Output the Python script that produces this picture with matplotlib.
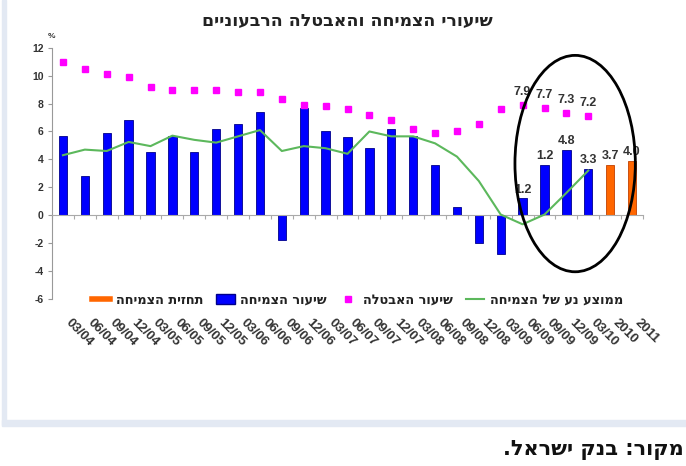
import numpy as np
import matplotlib
matplotlib.use("Agg")
import matplotlib.pyplot as plt
from matplotlib.lines import Line2D
from matplotlib.patches import Patch, Ellipse, Rectangle
import matplotlib.transforms as mtransforms

plt.rcParams['font.family'] = ['Liberation Sans', 'DejaVu Sans']
plt.rcParams['axes.unicode_minus'] = False
HEB_FONT = ['DejaVu Sans']


def heb(s):
    # matplotlib has no bidi support: flip Hebrew to visual order
    return s[::-1]


# Data
quarters = ["03/04", "06/04", "09/04", "12/04", "03/05", "06/05", "09/05", "12/05",
            "03/06", "06/06", "09/06", "12/06", "03/07", "06/07", "09/07", "12/07",
            "03/08", "06/08", "09/08", "12/08", "03/09", "06/09", "09/09", "12/09",
            "03/10", "2010", "2011"]

growth = [5.7, 2.8, 5.9, 6.8, 4.5, 5.7, 4.5, 6.2, 6.5, 7.4, -1.8, 7.65, 6.05, 5.6,
          4.8, 6.2, 5.7, 3.6, 0.6, -2.0, -2.8, 1.2, 3.6, 4.7, 3.3]
forecast = [3.6, 3.9]
unemployment = [10.95, 10.5, 10.15, 9.9, 9.2, 9.0, 8.95, 9.0, 8.8, 8.8, 8.35, 7.9, 7.8,
                7.6, 7.2, 6.8, 6.15, 5.9, 6.0, 6.5, 7.6, 7.9, 7.7, 7.3, 7.1]
moving_avg = [4.3, 4.7, 4.6, 5.25, 4.95, 5.7, 5.4, 5.2, 5.65, 6.1, 4.6, 4.95, 4.8, 4.4,
              6.0, 5.65, 5.65, 5.15, 4.2, 2.45, 0.05, -0.65, 0.05, 1.6, 3.2]

growth_labels = {21: "1.2", 22: "1.2", 23: "4.8", 24: "3.3"}
forecast_labels = ["3.7", "4.0"]
unemp_labels = {21: "7.9", 22: "7.7", 23: "7.3", 24: "7.2"}

title = "שיעורי הצמיחה והאבטלה הרבעוניים"
source = "מקור: בנק ישראל."
leg_names = ["תחזית הצמיחה", "שיעור הצמיחה", "שיעור האבטלה", "ממוצע נע של הצמיחה"]

W, H = 686, 466
fig = plt.figure(figsize=(W / 100, H / 100), dpi=100)

# frame bands (left and bottom)
fig.patches.append(Rectangle((2 / W, 1 - 425 / H), 4 / W, 425 / H, transform=fig.transFigure,
                             color="#e3e9f3", zorder=0))
fig.patches.append(Rectangle((2 / W, 1 - 426 / H), 1, 6 / H, transform=fig.transFigure,
                             color="#e3e9f3", zorder=0))

ax = fig.add_axes([52 / W, 1 - 299 / H, (643 - 52) / W, (299 - 47.7) / H])

n = len(quarters)
x = np.arange(n)
xg = x[:len(growth)]
xf = x[len(growth):]

ax.bar(xg, growth, width=0.38, color="#0000ff", edgecolor="#00008b", linewidth=0.6, zorder=2)
ax.bar(xf, forecast, width=0.38, color="#ff6600", edgecolor="#c04000", linewidth=0.6, zorder=2)
ax.plot(xg, unemployment, linestyle="none", marker="s", markersize=4.5,
        color="#ff00ff", zorder=3)
ax.plot(xg, moving_avg, color="#5cb85c", linewidth=1.5, zorder=3)

lbl = dict(ha="center", va="bottom", fontsize=9, fontweight="bold", color="#333333",
           textcoords="offset points", zorder=4)
for i, t in growth_labels.items():
    ax.annotate(t, (xg[i], growth[i]), xytext=(0, 2), **lbl)
for i, t in enumerate(forecast_labels):
    ax.annotate(t, (xf[i], forecast[i]), xytext=(0, 2), **lbl)
for i, t in unemp_labels.items():
    ax.annotate(t, (xg[i], unemployment[i]), xytext=(0, 5), **lbl)

ax.add_patch(Ellipse((23.4, 3.7), 5.5, 15.5, fill=False, edgecolor="black",
                     linewidth=2, zorder=5))

ax.set_xlim(-0.5, n - 0.5)
ax.set_ylim(-6, 12)
ax.set_yticks(np.arange(-6, 13, 2))
for s in ["top", "right"]:
    ax.spines[s].set_visible(False)
ax.spines["left"].set_color("#999999")
ax.spines["bottom"].set_position(("data", 0))
ax.spines["bottom"].set_color("#aaaaaa")
ax.set_xticks(np.arange(-0.5, n, 1.0))
ax.set_xticklabels([])
ax.tick_params(axis="x", direction="out", length=3, color="#aaaaaa")
ax.tick_params(axis="y", direction="out", length=3, color="#999999", labelsize=7.5,
               labelcolor="#333333", pad=3)
for t in ax.get_yticklabels():
    t.set_fontweight("bold")

trans = mtransforms.blended_transform_factory(ax.transData, ax.transAxes)
for i, q in enumerate(quarters):
    ax.text(i + 0.4, -0.072, q, transform=trans, rotation=-45, rotation_mode="anchor",
            ha="left", va="top", fontsize=9.5, fontweight="bold", color="#333333")

fig.text(51 / W, 1 - 37 / H, "%", ha="center", va="center", fontsize=6,
         fontweight="bold", color="#333333")

fig.text(347 / W, 1 - 21 / H, heb(title), ha="center", va="center", fontsize=12.5,
         fontweight="bold", family=HEB_FONT, color="#222222")

handles = [Line2D([], [], color="#ff6600", linewidth=4),
           Patch(facecolor="#0000ff", edgecolor="#00008b"),
           Line2D([], [], linestyle="none", marker="s", markersize=4.5, color="#ff00ff"),
           Line2D([], [], color="#5cb85c", linewidth=1.5)]
fig.legend(handles, [heb(s) for s in leg_names], ncol=4, frameon=False,
           loc="center left", bbox_to_anchor=(80 / W, 1 - 300 / H),
           prop={"size": 9.3, "weight": "bold", "family": HEB_FONT},
           handlelength=1.45, handletextpad=0.4, columnspacing=1.0, labelcolor="#222222")

fig.text(684 / W, 1 - 450 / H, heb(source), ha="right", va="center", fontsize=15,
         fontweight="bold", family=HEB_FONT, color="#111111")

fig.savefig("out.png", dpi=100)
